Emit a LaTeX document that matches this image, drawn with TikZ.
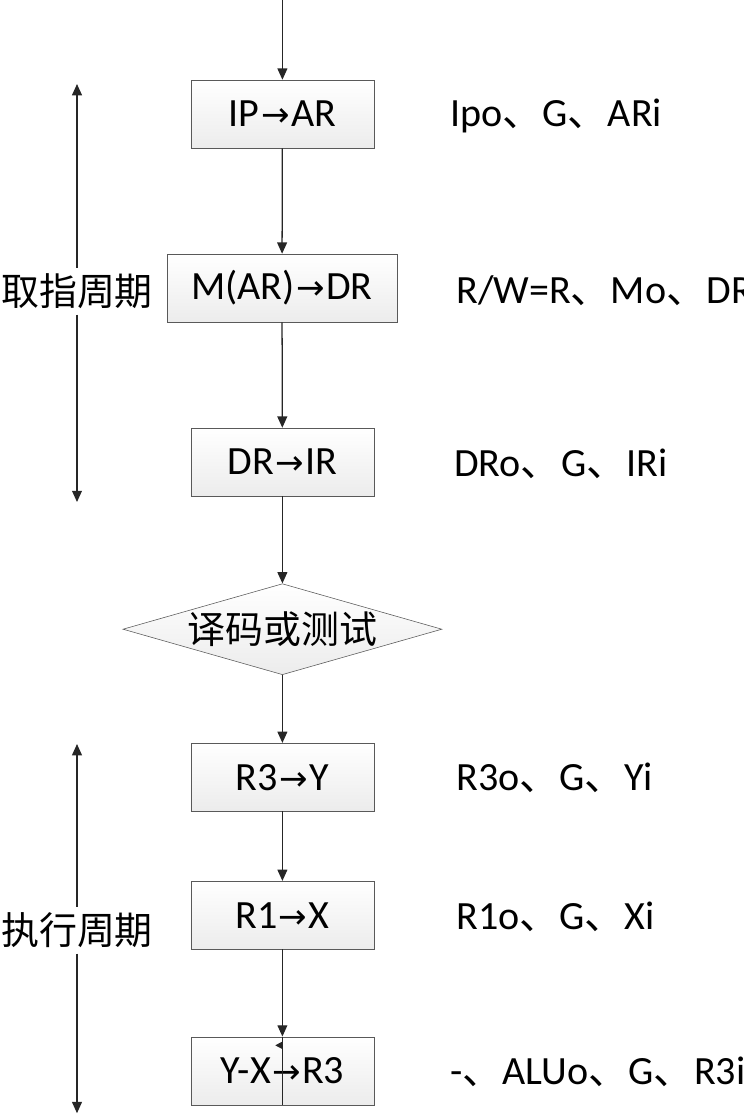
\documentclass[tikz,border=0pt]{standalone}
\usepackage{fontspec}
\setmainfont{Carlito}
\newfontfamily\cjk{Noto Sans CJK SC}
\newfontfamily\symf{DejaVu Sans}[Scale=0.85]
\usetikzlibrary{arrows.meta,shapes.geometric,shadows}
\newcommand{\dun}{{\cjk 、}}
\newcommand{\tto}{\kern1pt{\symf →}\kern1pt}
\tikzset{
    opbox/.style={draw=gray!70!black, top color=white, bottom color=gray!15,
        minimum width=4.575cm, minimum height=1.7cm, inner sep=0pt,
        font=\fontsize{28.5}{32}\selectfont,
        drop shadow={shadow xshift=.8pt, shadow yshift=-.8pt, opacity=.25}},
    testbox/.style={diamond, aspect=3.5, draw=gray!70!black, top color=white, bottom color=gray!15,
        minimum width=7.975cm, minimum height=2.275cm, inner sep=0pt,
        font=\cjk\fontsize{27}{30}\selectfont},
    flow/.style={-{Triangle[length=8pt,width=7pt]}, draw=gray!30!black, line width=0.9pt},
    sig/.style={anchor=west, inner sep=0pt, font=\fontsize{28.5}{32}\selectfont},
    cyc/.style={fill=white, inner sep=4pt, font=\cjk\fontsize{27}{30}\selectfont}
}
\begin{document}
\begin{tikzpicture}
    \clip (0,0) rectangle (18.6,-27.9);
    % flow of the instruction
    \coordinate (start) at (7.06,0);
    \node[opbox] (ipar) at (7.06,-2.85) {IP\tto AR};
    \node[opbox, minimum width=5.75cm] (mardr) at (7.05,-7.2) {M(AR)\tto DR};
    \node[opbox] (drir) at (7.06,-11.55) {DR\tto IR};
    \node[testbox] (decode) at (7.06,-15.73) {译码或测试};
    \node[opbox] (r3y) at (7.06,-19.43) {R3\tto Y};
    \node[opbox] (r1x) at (7.06,-22.88) {R1\tto X};
    \node[opbox] (yxr3) at (7.06,-26.77) {Y-X\tto R3};
    \draw[flow] (start) -- (ipar);
    \draw[flow] (ipar) -- (mardr);
    \draw[flow] (mardr) -- (drir);
    \draw[flow] (drir) -- (decode);
    \draw[flow] (decode) -- (r3y);
    \draw[flow] (r3y) -- (r1x);
    \draw[flow] (r1x) -- (yxr3);
    \draw[draw=gray!30!black, line width=0.9pt] (yxr3.north) -- (yxr3.south);
    \draw[-{Triangle[length=5pt,width=5pt]}, draw=gray!30!black, line width=0.8pt]
        ([yshift=-0.22cm]yxr3.north) -- ++(-0.18,0);
    % control signals
    \node[sig] (ipsig) at (11.25,-2.9) {Ipo\dun G\dun ARi};
    \node[sig] (rwsig) at (11.4,-7.28) {R/W=R\dun Mo\dun DRi};
    \node[sig] (drsig) at (11.35,-11.6) {DRo\dun G\dun IRi};
    \node[sig] (r3sig) at (11.4,-19.45) {R3o\dun G\dun Yi};
    \node[sig] (r1sig) at (11.4,-22.93) {R1o\dun G\dun Xi};
    \node[sig] (alusig) at (11.25,-26.8) {-\dun ALUo\dun G\dun R3i};
    % cycles
    \coordinate (fetchtop) at (1.925,-2.1);
    \coordinate (fetchbot) at (1.925,-12.55);
    \coordinate (exectop) at (1.925,-18.6);
    \coordinate (execbot) at (1.925,-27.83);
    \node[cyc] (fetch) at (1.925,-7.28) {取指周期};
    \node[cyc] (exec) at (1.925,-23.25) {执行周期};
    \draw[flow] (fetch) -- (fetchtop);
    \draw[flow] (fetch) -- (fetchbot);
    \draw[flow] (exec) -- (exectop);
    \draw[flow] (exec) -- (execbot);
\end{tikzpicture}
\end{document}
